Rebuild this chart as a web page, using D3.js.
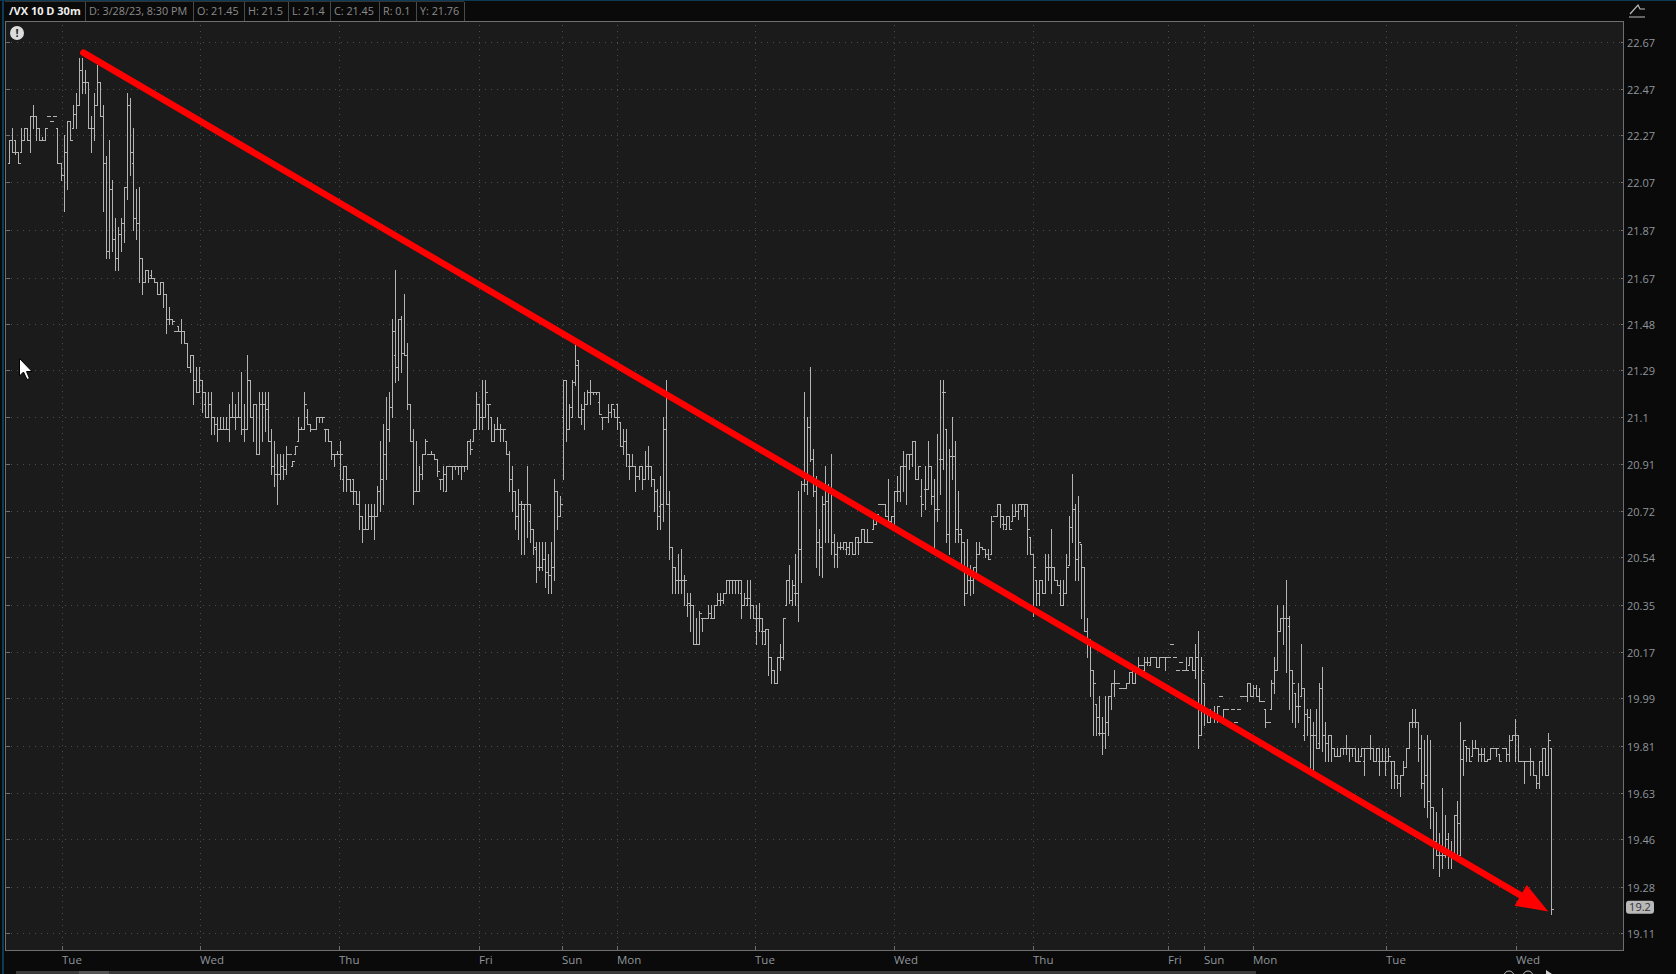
<!DOCTYPE html>
<html><head><meta charset="utf-8">
<script src="https://cdn.jsdelivr.net/npm/d3@7"></script>
<style>html,body{margin:0;padding:0;background:#0a0a0a;overflow:hidden}svg{display:block}text{font-family:"Open Sans",sans-serif}</style>
</head><body><div id="c"></div>
<script>
const highs=[
22.25,22.30,22.25,22.20,22.30,22.30,22.30,22.35,22.40,22.35,
22.30,22.26,22.30,22.35,22.33,22.35,22.30,22.15,22.27,22.33,
22.33,22.40,22.45,22.60,22.60,22.55,22.50,22.35,22.45,22.57,
22.50,22.40,22.18,22.25,22.08,21.92,21.88,21.92,22.05,22.45,
22.43,22.30,22.04,22.05,21.75,21.70,21.70,21.70,21.67,21.65,
21.65,21.65,21.60,21.55,21.50,21.45,21.47,21.50,21.45,21.40,
21.35,21.35,21.30,21.30,21.25,21.20,21.20,21.20,21.10,21.10,
21.10,21.10,21.10,21.15,21.20,21.15,21.20,21.28,21.15,21.35,
21.25,21.15,21.15,21.20,21.20,21.20,21.20,21.05,21.00,20.95,
20.95,20.95,20.98,20.95,20.92,20.98,21.10,21.06,21.20,21.13,
21.07,21.05,21.10,21.10,21.10,21.05,21.05,21.00,20.95,20.96,
21.00,20.90,20.90,20.85,20.85,20.80,20.80,20.70,20.75,20.75,
20.75,20.75,20.82,21.00,21.07,21.18,21.20,21.50,21.70,21.50,
21.51,21.60,21.40,21.15,21.05,21.00,20.90,20.95,21.01,20.95,
20.96,20.95,20.93,20.85,20.90,20.90,20.90,20.90,20.90,20.90,
20.90,20.90,21.00,21.01,21.05,21.20,21.15,21.25,21.25,21.15,
21.10,21.07,21.10,21.07,21.05,21.00,20.96,20.90,20.80,20.81,
20.76,20.75,20.90,20.75,20.65,20.60,20.60,20.60,20.60,20.55,
20.60,20.85,20.80,20.78,21.25,21.25,21.15,21.25,21.39,21.33,
21.15,21.20,21.21,21.25,21.20,21.20,21.20,21.10,21.10,21.15,
21.15,21.13,21.15,21.08,21.05,21.05,20.95,20.95,20.90,20.90,
20.90,20.96,20.98,20.90,20.85,20.81,20.86,21.10,21.25,20.80,
20.58,20.50,20.55,20.57,20.47,20.40,20.40,20.35,20.30,20.33,
20.30,20.30,20.35,20.35,20.35,20.40,20.40,20.40,20.45,20.45,
20.45,20.45,20.45,20.45,20.40,20.45,20.45,20.35,20.35,20.36,
20.30,20.26,20.26,20.15,20.10,20.15,20.20,20.30,20.45,20.51,
20.45,20.55,20.80,20.84,21.20,21.10,21.30,20.97,20.86,20.65,
20.78,20.90,20.83,20.95,20.63,20.60,20.60,20.60,20.60,20.60,
20.60,20.62,20.62,20.65,20.65,20.65,20.60,20.70,20.71,20.75,
20.75,20.75,20.85,20.70,20.80,20.86,20.90,20.96,20.95,20.95,
21.00,21.00,20.90,20.85,20.90,21.00,20.90,20.85,21.03,21.25,
21.25,21.05,20.97,21.10,21.00,20.80,20.65,20.60,20.61,20.51,
20.50,20.60,20.60,20.58,20.57,20.57,20.70,20.70,20.75,20.75,
20.70,20.70,20.70,20.75,20.75,20.75,20.75,20.75,20.75,20.62,
20.55,20.45,20.45,20.45,20.55,20.55,20.65,20.50,20.45,20.45,
20.45,20.55,20.70,20.87,20.75,20.78,20.59,20.50,20.30,20.22,
20.10,19.97,20.00,19.92,20.00,20.00,20.05,20.10,20.05,20.03,
20.03,20.05,20.09,20.10,20.09,20.15,20.12,20.15,20.15,20.15,
20.15,20.15,20.15,20.15,20.15,20.15,20.20,20.15,20.10,20.13,
20.10,20.15,20.15,20.15,20.20,20.25,20.15,20.05,19.95,19.95,
19.96,19.96,20.00,19.95,19.95,19.90,19.95,19.90,19.95,20.00,
20.00,20.05,20.05,20.04,20.04,20.03,19.98,19.95,19.90,20.06,
20.15,20.35,20.30,20.35,20.45,20.31,20.10,20.01,20.05,20.20,
20.03,19.95,19.95,19.90,19.95,20.05,20.11,19.90,19.85,19.85,
19.80,19.80,19.80,19.80,19.85,19.80,19.80,19.80,19.80,19.80,
19.80,19.80,19.85,19.80,19.80,19.80,19.80,19.80,19.80,19.75,
19.75,19.70,19.70,19.75,19.80,19.90,19.95,19.95,19.90,19.85,
19.83,19.85,19.83,19.58,19.56,19.48,19.65,19.55,19.48,19.45,
19.55,19.60,19.90,19.83,19.81,19.80,19.83,19.83,19.80,19.80,
19.80,19.76,19.80,19.80,19.80,19.78,19.80,19.80,19.85,19.85,
19.91,19.85,19.75,19.75,19.75,19.80,19.75,19.70,19.75,19.80,
19.80,19.86,19.80];
const lows=[
22.15,22.20,22.19,22.15,22.20,22.25,22.25,22.20,22.30,22.25,
22.25,22.25,22.25,22.35,22.33,22.35,22.15,22.08,21.95,22.04,
22.25,22.30,22.30,22.40,22.45,22.45,22.30,22.20,22.25,22.40,
22.35,21.95,21.75,21.75,21.78,21.70,21.70,21.78,21.82,22.00,
22.10,21.87,21.83,21.65,21.60,21.65,21.65,21.67,21.65,21.60,
21.60,21.55,21.44,21.48,21.48,21.45,21.45,21.40,21.40,21.30,
21.28,21.15,21.20,21.20,21.12,21.10,21.10,21.03,21.03,21.00,
21.05,21.05,21.05,21.00,21.10,21.05,21.10,21.03,21.00,21.05,
21.10,21.00,20.95,20.95,21.00,21.04,21.00,20.87,20.82,20.75,
20.85,20.85,20.87,20.95,20.90,20.95,21.00,21.05,21.05,21.07,
21.04,21.05,21.05,21.08,21.08,21.00,21.00,20.93,20.90,20.95,
20.85,20.80,20.80,20.80,20.75,20.75,20.65,20.60,20.65,20.65,
20.65,20.61,20.70,20.72,20.75,20.85,21.00,21.10,21.24,21.25,
21.28,21.35,21.13,21.00,20.75,20.80,20.80,20.85,20.95,20.95,
20.95,20.93,20.86,20.81,20.80,20.80,20.90,20.85,20.89,20.87,
20.85,20.88,20.89,20.95,21.00,21.05,21.05,21.05,21.10,21.05,
21.00,21.00,21.05,21.00,21.00,20.95,20.80,20.72,20.65,20.61,
20.55,20.55,20.62,20.60,20.55,20.44,20.49,20.49,20.42,20.40,
20.40,20.45,20.65,20.70,20.85,21.00,21.05,21.10,21.23,21.10,
21.07,21.05,21.15,21.15,21.19,21.19,21.11,21.05,21.10,21.08,
21.10,21.10,21.05,20.98,20.95,20.90,20.85,20.90,20.80,20.85,
20.81,20.85,20.85,20.82,20.72,20.65,20.65,20.68,20.75,20.53,
20.40,20.40,20.40,20.40,20.35,20.31,20.25,20.20,20.20,20.20,
20.25,20.30,20.30,20.30,20.30,20.35,20.35,20.36,20.40,20.40,
20.40,20.40,20.40,20.30,20.35,20.35,20.30,20.30,20.20,20.25,
20.20,20.20,20.08,20.05,20.05,20.05,20.10,20.14,20.35,20.36,
20.35,20.35,20.29,20.44,20.80,20.79,20.92,20.78,20.50,20.47,
20.46,20.60,20.60,20.55,20.50,20.50,20.57,20.57,20.55,20.55,
20.55,20.55,20.55,20.60,20.60,20.60,20.60,20.65,20.67,20.75,
20.75,20.70,20.68,20.67,20.66,20.76,20.76,20.80,20.75,20.89,
20.90,20.85,20.85,20.70,20.73,20.81,20.75,20.58,20.68,20.79,
20.89,20.60,20.55,20.85,20.60,20.60,20.50,20.35,20.40,20.39,
20.40,20.47,20.55,20.57,20.54,20.53,20.55,20.70,20.70,20.66,
20.65,20.65,20.65,20.68,20.70,20.69,20.73,20.70,20.55,20.55,
20.31,20.35,20.35,20.40,20.40,20.45,20.40,20.45,20.43,20.35,
20.35,20.40,20.51,20.60,20.45,20.45,20.30,20.25,20.15,20.00,
19.85,19.85,19.85,19.78,19.80,19.85,19.95,20.00,20.05,20.03,
20.03,20.03,20.05,20.05,20.05,20.10,20.12,20.10,20.12,20.12,
20.15,20.11,20.11,20.15,20.10,20.15,20.20,20.15,20.10,20.13,
20.10,20.10,20.12,20.10,20.07,19.80,19.85,19.89,19.90,19.90,
19.90,19.90,20.00,19.90,19.95,19.90,19.95,19.90,19.95,20.00,
20.00,19.98,20.00,20.00,20.00,19.98,19.98,19.88,19.90,19.95,
20.01,20.10,20.25,20.20,20.09,19.95,19.90,19.88,19.90,20.00,
19.83,19.85,19.71,19.71,19.80,19.80,19.79,19.75,19.75,19.75,
19.77,19.77,19.77,19.78,19.78,19.75,19.77,19.75,19.75,19.77,
19.70,19.80,19.76,19.75,19.75,19.70,19.75,19.70,19.75,19.65,
19.65,19.65,19.62,19.70,19.73,19.80,19.88,19.88,19.75,19.65,
19.58,19.54,19.50,19.35,19.40,19.32,19.35,19.39,19.35,19.35,
19.40,19.40,19.40,19.70,19.75,19.75,19.77,19.80,19.75,19.75,
19.75,19.75,19.76,19.80,19.77,19.75,19.80,19.75,19.75,19.83,
19.75,19.75,19.75,19.67,19.75,19.70,19.70,19.65,19.65,19.70,
19.70,19.70,19.18];
const opens=[
22.15,22.25,22.25,22.20,22.20,22.25,22.30,22.25,22.35,22.35,
22.30,22.25,22.25,22.35,22.33,22.35,22.30,22.15,22.10,22.20,
22.33,22.30,22.36,22.40,22.55,22.50,22.50,22.30,22.30,22.40,
22.50,22.35,22.15,21.78,22.04,21.83,21.75,21.85,21.90,22.05,
22.40,22.15,21.92,21.90,21.75,21.65,21.70,21.68,21.67,21.65,
21.60,21.65,21.60,21.50,21.50,21.45,21.47,21.45,21.45,21.40,
21.30,21.35,21.25,21.20,21.25,21.15,21.10,21.15,21.10,21.07,
21.05,21.05,21.05,21.05,21.10,21.10,21.10,21.10,21.05,21.05,
21.25,21.10,21.15,20.95,21.15,21.15,21.13,21.00,20.90,20.87,
20.87,20.90,20.89,20.95,20.90,20.95,21.00,21.05,21.05,21.10,
21.07,21.05,21.05,21.10,21.10,21.05,21.05,21.00,20.95,20.95,
20.95,20.85,20.90,20.85,20.85,20.80,20.75,20.70,20.65,20.65,
20.70,20.70,20.70,20.80,20.85,20.95,21.05,21.14,21.35,21.30,
21.50,21.36,21.35,21.15,21.00,20.80,20.80,20.87,20.95,20.95,
20.95,20.95,20.93,20.85,20.85,20.80,20.90,20.90,20.90,20.90,
20.90,20.90,20.90,21.00,21.00,21.05,21.15,21.10,21.10,21.15,
21.10,21.00,21.05,21.05,21.05,21.00,20.95,20.85,20.80,20.70,
20.75,20.73,20.75,20.68,20.65,20.57,20.50,20.50,20.53,20.48,
20.47,20.50,20.80,20.70,21.10,21.25,21.05,21.10,21.24,21.33,
21.10,21.13,21.15,21.20,21.20,21.20,21.16,21.10,21.10,21.10,
21.12,21.13,21.15,21.08,20.98,21.00,20.90,20.90,20.90,20.86,
20.90,20.85,20.90,20.90,20.85,20.80,20.74,20.75,21.05,20.75,
20.58,20.50,20.45,20.45,20.45,20.35,20.35,20.35,20.20,20.20,
20.30,20.30,20.30,20.30,20.30,20.35,20.37,20.37,20.40,20.45,
20.45,20.45,20.45,20.40,20.35,20.35,20.38,20.35,20.25,20.30,
20.25,20.20,20.26,20.15,20.10,20.05,20.15,20.15,20.35,20.45,
20.37,20.40,20.40,20.57,20.83,20.83,21.06,20.93,20.80,20.60,
20.58,20.75,20.76,20.80,20.60,20.55,20.58,20.58,20.57,20.55,
20.60,20.55,20.60,20.60,20.65,20.60,20.60,20.65,20.67,20.75,
20.75,20.75,20.70,20.68,20.70,20.80,20.80,20.90,20.90,20.95,
20.95,21.00,20.85,20.78,20.81,20.81,20.90,20.78,20.73,20.93,
21.20,21.05,20.63,20.94,20.94,20.65,20.65,20.60,20.40,20.45,
20.45,20.50,20.55,20.58,20.57,20.55,20.55,20.70,20.70,20.75,
20.67,20.65,20.70,20.68,20.70,20.72,20.75,20.75,20.75,20.62,
20.55,20.45,20.40,20.45,20.40,20.50,20.50,20.50,20.45,20.40,
20.35,20.40,20.51,20.66,20.73,20.53,20.59,20.50,20.25,20.22,
20.10,19.97,19.86,19.86,19.86,19.90,20.00,20.05,20.05,20.03,
20.03,20.03,20.05,20.09,20.05,20.10,20.12,20.10,20.13,20.12,
20.15,20.15,20.11,20.15,20.15,20.15,20.20,20.15,20.10,20.13,
20.10,20.10,20.12,20.15,20.10,20.15,19.85,20.05,19.95,19.90,
19.94,19.92,20.00,19.90,19.95,19.90,19.95,19.90,19.95,20.00,
20.00,20.00,20.05,20.00,20.03,20.00,19.98,19.95,19.90,19.95,
20.05,20.10,20.25,20.30,20.30,20.27,20.10,20.01,19.96,20.00,
19.85,19.93,19.92,19.71,19.85,19.82,20.03,19.85,19.82,19.85,
19.80,19.77,19.77,19.80,19.80,19.80,19.80,19.80,19.75,19.77,
19.75,19.80,19.80,19.80,19.75,19.75,19.75,19.75,19.75,19.75,
19.75,19.70,19.67,19.70,19.73,19.80,19.90,19.90,19.90,19.80,
19.67,19.70,19.60,19.58,19.45,19.40,19.40,19.40,19.46,19.40,
19.40,19.55,19.40,19.76,19.81,19.80,19.77,19.80,19.80,19.78,
19.78,19.75,19.76,19.80,19.80,19.78,19.80,19.80,19.78,19.83,
19.85,19.85,19.75,19.75,19.75,19.75,19.75,19.70,19.67,19.75,
19.80,19.70,19.80];
const closes=[
22.25,22.20,22.20,22.15,22.25,22.30,22.25,22.35,22.35,22.30,
22.25,22.25,22.30,22.35,22.33,22.35,22.15,22.10,22.20,22.33,
22.25,22.36,22.40,22.55,22.50,22.50,22.30,22.30,22.40,22.50,
22.35,22.15,21.78,22.04,21.83,21.75,21.85,21.90,22.05,22.40,
22.20,21.92,21.90,21.75,21.65,21.70,21.67,21.67,21.65,21.60,
21.65,21.60,21.50,21.50,21.49,21.45,21.45,21.45,21.40,21.30,
21.35,21.25,21.20,21.25,21.20,21.10,21.15,21.10,21.07,21.05,
21.05,21.05,21.05,21.10,21.10,21.10,21.10,21.05,21.05,21.25,
21.10,21.15,20.95,21.15,21.15,21.13,21.00,20.90,20.87,20.87,
20.90,20.89,20.95,20.95,20.92,20.98,21.05,21.05,21.15,21.07,
21.05,21.05,21.10,21.10,21.10,21.05,21.00,20.95,20.95,20.95,
20.95,20.90,20.85,20.80,20.80,20.75,20.70,20.65,20.65,20.70,
20.70,20.70,20.80,20.85,20.95,21.05,21.14,21.45,21.30,21.50,
21.36,21.35,21.15,21.00,20.80,20.80,20.87,20.95,21.00,20.95,
20.95,20.93,20.88,20.85,20.87,20.90,20.90,20.90,20.90,20.90,
20.90,20.90,21.00,20.97,21.05,21.15,21.10,21.10,21.20,21.15,
21.00,21.05,21.05,21.05,21.05,20.95,20.85,20.80,20.70,20.75,
20.75,20.75,20.75,20.65,20.58,20.50,20.50,20.53,20.48,20.47,
20.50,20.80,20.70,20.75,21.25,21.05,21.14,21.24,21.31,21.10,
21.13,21.15,21.20,21.20,21.20,21.20,21.11,21.10,21.10,21.12,
21.15,21.10,21.10,20.98,21.00,20.95,20.90,20.90,20.86,20.90,
20.85,20.90,20.90,20.85,20.80,20.70,20.75,21.05,20.75,20.58,
20.50,20.45,20.45,20.45,20.45,20.36,20.35,20.20,20.20,20.32,
20.30,20.30,20.32,20.30,20.35,20.37,20.37,20.40,20.45,20.45,
20.45,20.45,20.45,20.35,20.38,20.38,20.35,20.30,20.30,20.30,
20.25,20.26,20.15,20.10,20.05,20.15,20.15,20.30,20.45,20.37,
20.43,20.40,20.57,20.83,20.83,21.06,20.93,20.80,20.60,20.58,
20.75,20.76,20.80,20.60,20.55,20.58,20.58,20.60,20.58,20.60,
20.55,20.62,20.60,20.65,20.60,20.60,20.60,20.67,20.71,20.75,
20.75,20.70,20.68,20.70,20.80,20.80,20.90,20.90,20.95,20.95,
21.00,20.85,20.90,20.75,20.81,20.90,20.78,20.73,20.73,20.93,
21.20,20.63,20.94,20.94,20.65,20.63,20.60,20.40,20.45,20.45,
20.50,20.55,20.58,20.57,20.55,20.53,20.68,20.70,20.75,20.70,
20.67,20.70,20.65,20.70,20.72,20.75,20.75,20.75,20.65,20.55,
20.50,20.40,20.45,20.40,20.50,20.50,20.50,20.45,20.43,20.35,
20.40,20.50,20.66,20.73,20.53,20.60,20.50,20.25,20.22,20.10,
20.05,19.92,19.86,19.86,19.90,20.00,20.05,20.05,20.05,20.03,
20.03,20.05,20.09,20.05,20.09,20.12,20.12,20.13,20.13,20.15,
20.15,20.11,20.15,20.15,20.15,20.15,20.20,20.15,20.10,20.13,
20.10,20.10,20.15,20.10,20.15,19.85,20.10,19.95,19.90,19.94,
19.92,19.96,20.00,19.95,19.95,19.90,19.95,19.90,19.95,20.00,
20.00,20.05,20.00,20.03,20.00,19.98,19.98,19.90,19.90,20.05,
20.10,20.25,20.30,20.30,20.30,20.10,20.05,19.96,19.96,20.03,
19.93,19.92,19.85,19.85,19.80,20.03,19.85,19.82,19.85,19.80,
19.77,19.77,19.80,19.80,19.80,19.80,19.80,19.75,19.75,19.80,
19.80,19.80,19.80,19.75,19.80,19.75,19.75,19.75,19.77,19.75,
19.70,19.67,19.70,19.73,19.80,19.90,19.90,19.90,19.80,19.67,
19.70,19.60,19.58,19.45,19.40,19.40,19.40,19.46,19.40,19.40,
19.55,19.52,19.76,19.83,19.80,19.75,19.80,19.80,19.78,19.78,
19.75,19.76,19.80,19.80,19.80,19.75,19.80,19.78,19.83,19.85,
19.85,19.75,19.75,19.75,19.75,19.75,19.70,19.67,19.75,19.80,
19.70,19.83,19.20];

const priceTicks=[22.67,22.47,22.27,22.07,21.87,21.67,21.48,21.29,21.1,20.91,20.72,20.54,20.35,20.17,19.99,19.81,19.63,19.46,19.28,19.11];
const dayLabels=["Tue","Wed","Thu","Fri","Sun","Mon","Tue","Wed","Thu","Fri","Sun","Mon","Tue","Wed"];
const dayBars=[17.66,63.5,109.5,155.9,183.75,202,247.8,293.8,340.2,384.9,396.9,413.1,457.2,500.4];
const headerTexts=["D: 3/28/23, 8:30 PM","O: 21.45","H: 21.5","L: 21.4","C: 21.45","R: 0.1","Y: 21.76"];
const headerStarts=[89,197,248,292,334,383,420];
const headerSeps=[85.5,193,244.5,288.5,330.5,379.5,416.5,464.5];
const title="/VX 10 D 30m";
const lastPrice=19.2;
const trendBars=[24.6,511.2];
const trendPrices=[22.625,19.19];

const W=1676,H=974,pL=5.5,pR=1623.5,pT=21.5,pB=950.5;
const n=highs.length;
const x=d3.scaleLinear().domain([0,512]).range([9.33,1550.67]);
const y=d3.scaleLog().domain([19.11,22.67]).range([933.3,42.3]);
const svg=d3.select("#c").append("svg").attr("width",W).attr("height",H);
svg.append("rect").attr("width",W).attr("height",H).attr("fill","#0a0a0a");
svg.append("rect").attr("x",pL).attr("y",pT).attr("width",pR-pL).attr("height",pB-pT).attr("fill","#1b1b1b");
// left window edge
svg.append("rect").attr("x",2).attr("y",0).attr("width",2).attr("height",H).attr("fill","#0f3a56");
svg.append("rect").attr("x",0).attr("y",0).attr("width",W).attr("height",1).attr("fill","#0f3a56");

const grid=svg.append("g").attr("stroke","#4d4d4d").attr("stroke-width",1).attr("shape-rendering","crispEdges");
grid.selectAll("line.h").data(priceTicks).join("line").attr("class","h")
 .attr("x1",pL+5).attr("x2",pR-3).attr("y1",d=>Math.round(y(d))+.5).attr("y2",d=>Math.round(y(d))+.5)
 .attr("stroke-dasharray","1,5");
grid.selectAll("line.v").data(dayBars).join("line").attr("class","v")
 .attr("x1",d=>Math.round(x(d))+.5).attr("x2",d=>Math.round(x(d))+.5).attr("y1",pT+3).attr("y2",pB-5)
 .attr("stroke-dasharray","1,5");
// ticks
grid.selectAll("line.tl").data(priceTicks).join("line").attr("class","tl").attr("stroke","#6e6e6e")
 .attr("x1",pL).attr("x2",pL+4).attr("y1",d=>Math.round(y(d))+.5).attr("y2",d=>Math.round(y(d))+.5);
grid.selectAll("line.tr").data(priceTicks).join("line").attr("class","tr").attr("stroke","#6e6e6e")
 .attr("x1",pR-3).attr("x2",pR).attr("y1",d=>Math.round(y(d))+.5).attr("y2",d=>Math.round(y(d))+.5);
grid.selectAll("line.tb").data(dayBars).join("line").attr("class","tb").attr("stroke","#6e6e6e")
 .attr("x1",d=>Math.round(x(d))+.5).attr("x2",d=>Math.round(x(d))+.5).attr("y1",pB-5).attr("y2",pB);
grid.append("path").attr("fill","none").attr("stroke","#6e6e6e")
 .attr("d",`M${pL},${pT}H${pR}V${pB}H${pL}Z`);

// OHLC bars
const barColor="#b4b4b4";
const idx=d3.range(n);
const bars=svg.append("g").attr("fill",barColor).attr("shape-rendering","crispEdges");
const px=i=>Math.round(x(i));
bars.selectAll("rect.s").data(idx).join("rect").attr("class","s")
 .attr("x",px).attr("width",1)
 .attr("y",i=>Math.round(y(highs[i])))
 .attr("height",i=>Math.max(1,Math.round(y(lows[i]))-Math.round(y(highs[i]))+1));
bars.selectAll("rect.o").data(idx).join("rect").attr("class","o")
 .attr("x",i=>px(i)-1).attr("width",1).attr("height",1).attr("y",i=>Math.round(y(opens[i])));
bars.selectAll("rect.c").data(idx).join("rect").attr("class","c")
 .attr("x",i=>px(i)+1).attr("width",2).attr("height",1).attr("y",i=>Math.round(y(closes[i])));

// axis labels
svg.append("g").selectAll("text").data(priceTicks.map(d=>[d,String(d)])).join("text")
 .attr("x",1627).attr("y",d=>y(d[0])+5).attr("font-size",11).attr("fill","#8f959b").text(d=>d[1]);
svg.append("g").selectAll("text").data(dayLabels).join("text")
 .attr("x",(d,i)=>Math.round(x(dayBars[i]))).attr("y",964).attr("font-size",11.5).attr("fill","#8f959b").text(d=>d);

// last price badge
const ly=y(lastPrice)-1.5;
svg.append("rect").attr("x",1626).attr("y",ly-6.5).attr("width",28).attr("height",13).attr("rx",3).attr("fill","#b9b9b9");
svg.append("text").attr("x",1640).attr("y",ly+4).attr("text-anchor","middle").attr("font-size",11).attr("fill","#333").text(String(lastPrice));

// red trend arrow
const tx=trendBars.map(d=>x(d)), ty=trendPrices.map(d=>y(d));
const ang=Math.atan2(ty[1]-ty[0],tx[1]-tx[0]);
const hl=32,hw=12;
const bx=tx[1]-hl*Math.cos(ang),by=ty[1]-hl*Math.sin(ang);
svg.append("line").attr("x1",tx[0]).attr("y1",ty[0]).attr("x2",bx+3*Math.cos(ang)).attr("y2",by+3*Math.sin(ang))
 .attr("stroke","#fe0000").attr("stroke-width",6.5).attr("stroke-linecap","round");
svg.append("path").attr("fill","#fe0000").attr("d",
 `M${tx[1]},${ty[1]}L${bx-hw*Math.sin(ang)},${by+hw*Math.cos(ang)}L${bx+hw*Math.sin(ang)},${by-hw*Math.cos(ang)}Z`);

// header
const hd=svg.append("g");
hd.selectAll("line").data(headerSeps).join("line").attr("x1",d=>d).attr("x2",d=>d).attr("y1",2).attr("y2",21)
 .attr("stroke","#4a4a4a").attr("shape-rendering","crispEdges");
hd.append("line").attr("x1",5).attr("x2",464).attr("y1",1.5).attr("y2",1.5).attr("stroke","#333");
hd.append("text").attr("x",9).attr("y",15).attr("font-size",11).attr("font-weight",700).attr("fill","#eee").text(title);
hd.selectAll("text.h").data(headerTexts).join("text").attr("class","h")
 .attr("x",(d,i)=>headerStarts[i]).attr("y",15).attr("font-size",10.8).attr("fill","#8b8b8b").text(d=>d);

// warning icon
svg.append("circle").attr("cx",17).attr("cy",33).attr("r",7).attr("fill","#dcdcdc");
svg.append("text").attr("x",17).attr("y",37).attr("text-anchor","middle").attr("font-size",11).attr("font-weight",700).attr("fill","#222").text("!");

// mouse cursor
svg.append("path").attr("d","M19.5,358.5V376l4-4 3.5,7.5 2.5-1-3-7h5.5Z").attr("fill","#fff").attr("stroke","#000");

// top-right chart icon
svg.append("path").attr("d","M1629,17H1645M1630,14L1638,5L1640,9H1645").attr("fill","none").attr("stroke","#bbb").attr("stroke-width",1.2);

// bottom scrollbar and controls
svg.append("rect").attr("x",16).attr("y",971).attr("width",1240).attr("height",3).attr("fill","#3a3a3a");
svg.append("rect").attr("x",79).attr("y",971).attr("width",30).attr("height",3).attr("fill","#555");
[1509,1528].forEach(c=>svg.append("circle").attr("cx",c).attr("cy",976).attr("r",5).attr("fill","none").attr("stroke","#bbb"));
svg.append("path").attr("d","M1546,970L1552,974H1546Z").attr("fill","#ccc");
</script></body></html>
